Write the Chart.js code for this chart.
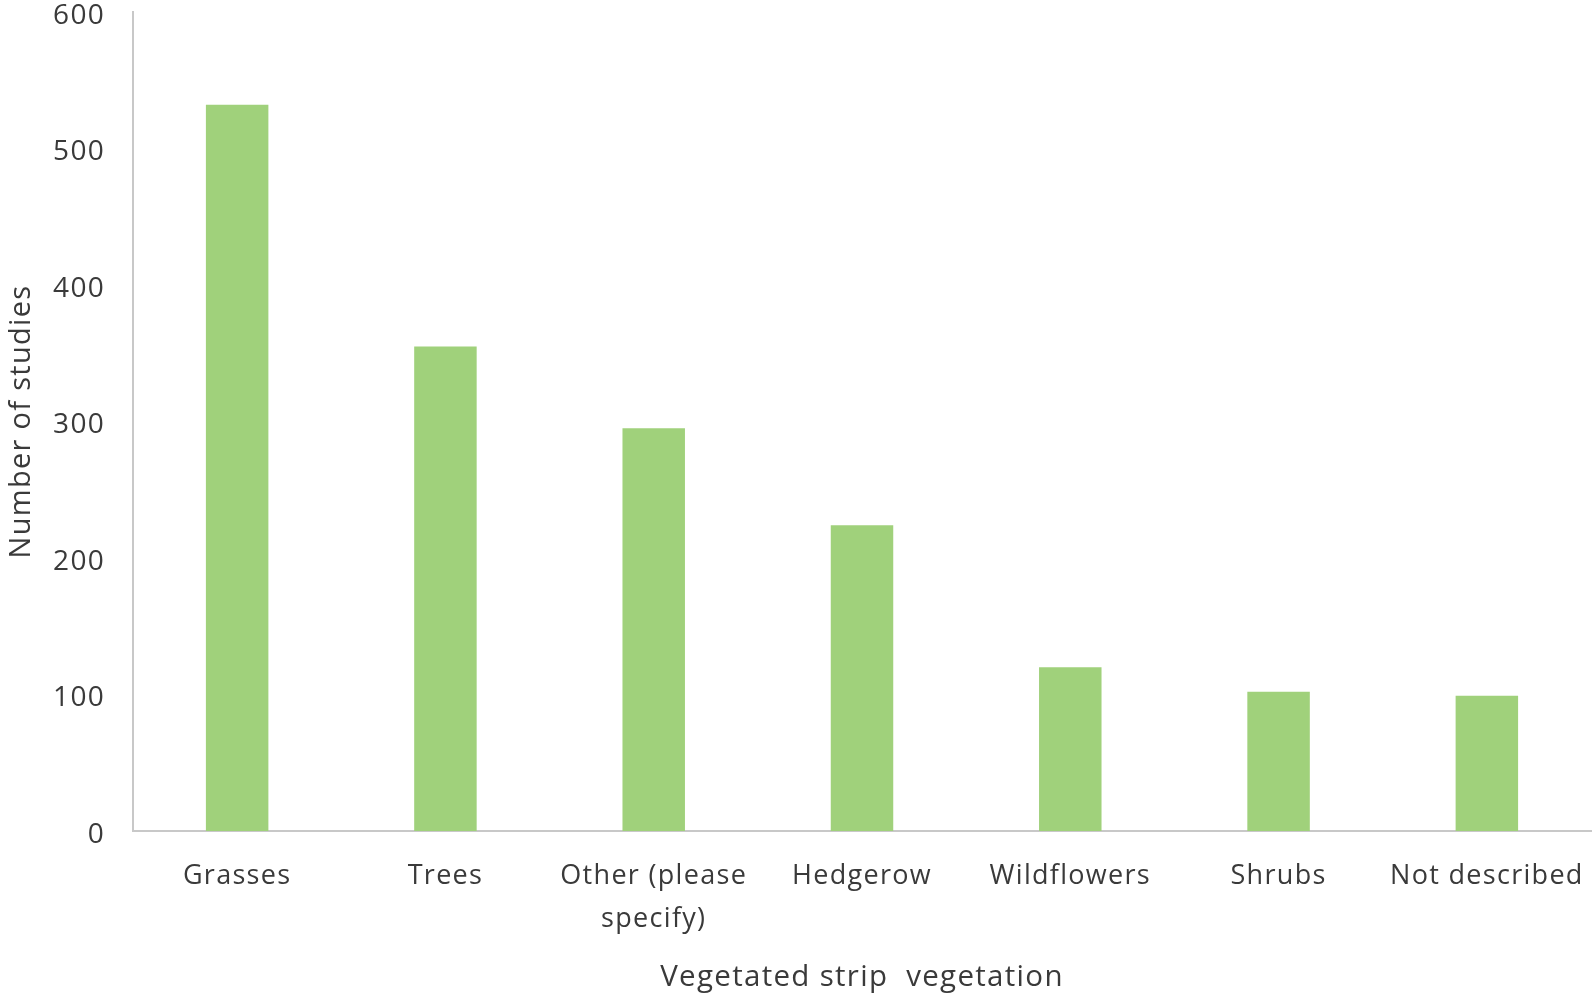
<!DOCTYPE html>
<html>
<head>
<meta charset="utf-8">
<script src="https://cdn.jsdelivr.net/npm/chart.js@4.4.1/dist/chart.umd.min.js"></script>
<style>
  html, body { margin: 0; padding: 0; background: #fff; }
  #box { width: 1595px; height: 995px; }
</style>
</head>
<body>
<div id="box"><canvas id="graphique"></canvas></div>
<script>
// Données
let categories = ['Grasses', 'Trees', ['Other (please', 'specify)'], 'Hedgerow', 'Wildflowers', 'Shrubs', 'Not described'];
let nbEtudes = [532, 355, 295, 224, 120, 102, 99];
let ticksY = [0, 100, 200, 300, 400, 500, 600];

let police = "'Open Sans', 'DejaVu Sans', sans-serif";
let gris = '#3a3a3a';

// Espacement des lettres (le canevas est remis à zéro à chaque redimensionnement)
let espacement = {
    id: 'espacement',
    beforeLayout: function (chart) { chart.ctx.letterSpacing = '1.3px'; },
    beforeDraw: function (chart) { chart.ctx.letterSpacing = '1.3px'; }
};

let ctx = document.getElementById('graphique').getContext('2d');
let chart = new Chart(ctx, {
    type: 'bar',
    data: {
        labels: categories,
        datasets: [{
            label: 'Number of studies',
            backgroundColor: '#a0d17b',
            borderWidth: 0,
            data: nbEtudes,
            categoryPercentage: 1,
            barPercentage: 0.3
        }]
    },
    plugins: [espacement],
    options: {
        responsive: true,
        maintainAspectRatio: false,
        animation: false,
        layout: { padding: { top: 12, right: 4, left: 0, bottom: 0 } },
        plugins: {
            legend: { display: false },
            tooltip: { enabled: false }
        },
        scales: {
            x: {
                grid: { display: false, drawTicks: false },
                border: { color: '#c8c8c8', width: 2 },
                ticks: {
                    color: gris,
                    padding: 24,
                    maxRotation: 0,
                    autoSkip: false,
                    font: { family: police, size: 27, lineHeight: 1.6 }
                },
                title: {
                    display: true,
                    text: 'Vegetated strip  vegetation',
                    color: gris,
                    font: { family: police, size: 29.5 },
                    padding: { top: 20, bottom: 0 }
                },
                afterFit: function (scale) {
                    scale.height = 164;
                    scale.paddingLeft = 0;
                    scale.paddingRight = 0;
                }
            },
            y: {
                min: 0,
                max: 600,
                afterBuildTicks: function (scale) {
                    scale.ticks = ticksY.map(v => ({ value: v }));
                },
                grid: { display: false, drawTicks: false },
                border: { color: '#c8c8c8', width: 2 },
                ticks: {
                    color: gris,
                    padding: 28,
                    labelOffset: 4,
                    font: { family: police, size: 28 }
                },
                title: {
                    display: true,
                    text: 'Number of studies',
                    color: gris,
                    font: { family: police, size: 29 },
                    padding: { top: 4, bottom: 0 }
                },
                afterFit: function (scale) {
                    scale.width = 133;
                    scale.paddingTop = 0;
                    scale.paddingBottom = 0;
                }
            }
        }
    }
});
</script>
</body>
</html>
